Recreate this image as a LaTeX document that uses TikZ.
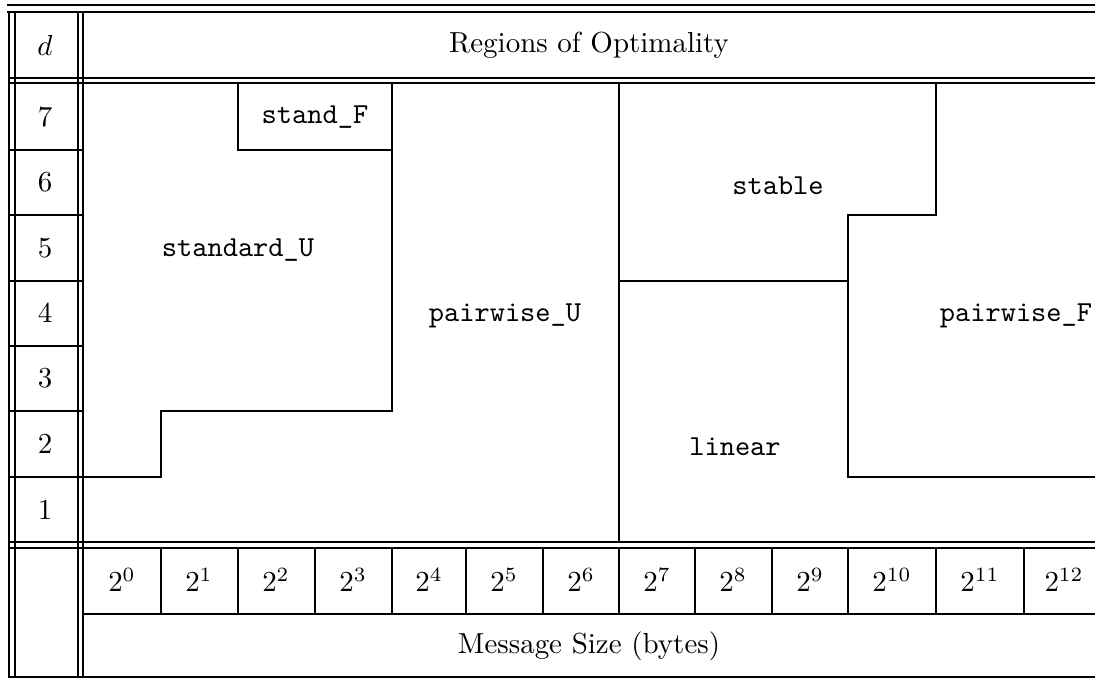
\documentclass[tikz,border=0pt]{standalone}
\begin{document}
\begin{tikzpicture}[x=0.345pt,y=-0.345pt,
  rule/.style={line width=0.75pt,line cap=rect},
  lbl/.style={inner sep=0pt,anchor=center},
  tlbl/.style={inner sep=0pt,anchor=center,font=\ttfamily}]
\useasboundingbox (0,0) rectangle (1095,678);
% ---- frame rules ----
\draw[rule] (8,5) -- (1095,5);
\draw[rule] (8,12) -- (1095,12);
\foreach \x in {9,15,78,83} \draw[rule] (\x,12) -- (\x,677);
\draw[rule] (9,78) -- (1095,78);
\draw[rule] (9,83) -- (1095,83);
\foreach \y in {150,215,281,346,411,477} \draw[rule] (9,\y) -- (83,\y);
\draw[rule] (9,542) -- (1095,542);
\draw[rule] (9,548) -- (1095,548);
\foreach \x in {161,238,315,392,466,543,619,695,772,848,936,1024} \draw[rule] (\x,548) -- (\x,614);
\draw[rule] (83,614) -- (1095,614);
\draw[rule] (9,677) -- (1095,677);
% ---- region boundaries ----
\draw[rule] (238,83) -- (238,150) -- (392,150);
\draw[rule] (392,83) -- (392,411) -- (161,411) -- (161,477) -- (83,477);
\draw[rule] (619,83) -- (619,542);
\draw[rule] (619,281) -- (848,281);
\draw[rule] (936,83) -- (936,215) -- (848,215) -- (848,477) -- (1095,477);
% ---- header ----
\node[lbl] (hd) at (45,45) {$d$};
\node[lbl] (hr) at (589,45) {Regions of Optimality};
% ---- row labels ----
\node[lbl] (r7) at (45,117) {7};
\node[lbl] (r6) at (45,182) {6};
\node[lbl] (r5) at (45,248) {5};
\node[lbl] (r4) at (45,313) {4};
\node[lbl] (r3) at (45,378) {3};
\node[lbl] (r2) at (45,444) {2};
\node[lbl] (r1) at (45,510) {1};
% ---- regions ----
\node[tlbl] (sF) at (315,117) {stand\_F};
\node[tlbl] (sU) at (238,250) {standard\_U};
\node[tlbl] (pU) at (505,316) {pairwise\_U};
\node[tlbl] (st) at (778,186) {stable};
\node[tlbl] (li) at (735,447) {linear};
\node[tlbl] (pF) at (1016,316) {pairwise\_F};
% ---- exponents ----
\node[lbl] (e0) at (122,580) {$2^{0}$};
\node[lbl] (e1) at (199,580) {$2^{1}$};
\node[lbl] (e2) at (276,580) {$2^{2}$};
\node[lbl] (e3) at (353,580) {$2^{3}$};
\node[lbl] (e4) at (429,580) {$2^{4}$};
\node[lbl] (e5) at (504,580) {$2^{5}$};
\node[lbl] (e6) at (581,580) {$2^{6}$};
\node[lbl] (e7) at (657,580) {$2^{7}$};
\node[lbl] (e8) at (733,580) {$2^{8}$};
\node[lbl] (e9) at (810,580) {$2^{9}$};
\node[lbl] (e10) at (892,580) {$2^{10}$};
\node[lbl] (e11) at (980,580) {$2^{11}$};
\node[lbl] (e12) at (1064,580) {$2^{12}$};
\node[lbl] (ms) at (589,646) {Message Size (bytes)};
\end{tikzpicture}
\end{document}
